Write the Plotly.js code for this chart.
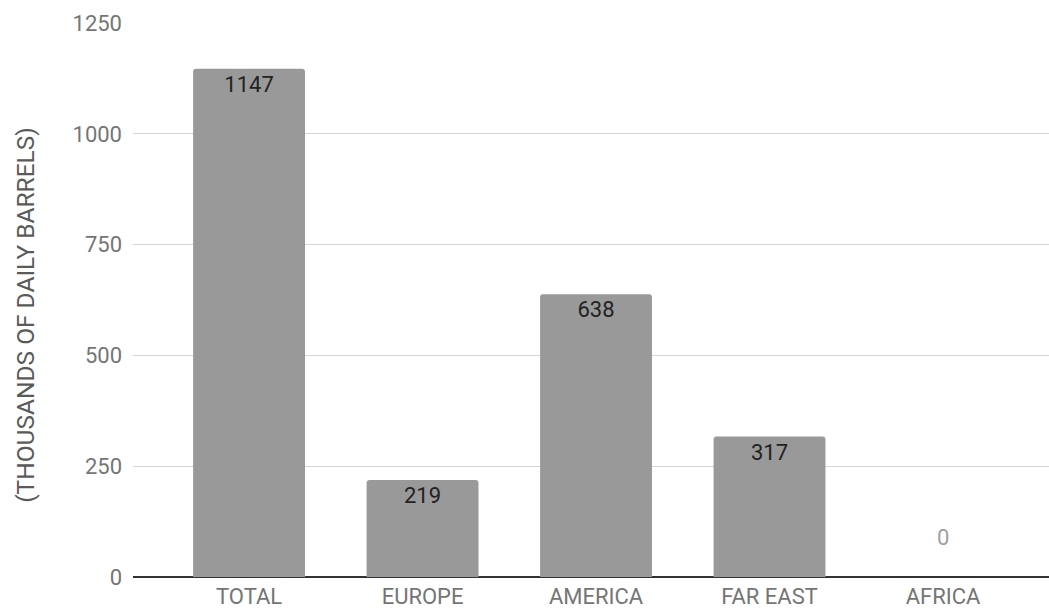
<!DOCTYPE html>
<html>
<head>
<meta charset="utf-8">
<script src="https://cdn.plot.ly/plotly-3.0.1.min.js"></script>
<style>html,body{margin:0;padding:0;background:#fff;}#chart{width:1049px;height:616px;}</style>
</head>
<body>
<div id="chart"></div>
<script>
var categories = ["TOTAL", "EUROPE", "AMERICA", "FAR EAST", "AFRICA"];
var values = [1147, 219, 638, 317, 0];
var yTicks = [0, 250, 500, 750, 1000, 1250];
var yTitle = "(THOUSANDS OF DAILY BARRELS)";

var FONT = "Roboto, sans-serif";

var annotations = [{
  xref: "paper", yref: "paper", x: -0.117, y: 0.473,
  xanchor: "center", yanchor: "middle",
  text: yTitle, textangle: -90, showarrow: false,
  font: {family: FONT, size: 24.5, color: "#5a5a5a"}
}];
categories.forEach(function (c, i) {
  if (values[i] === 0) {
    annotations.push({
      x: c, y: 0, xref: "x", yref: "y", text: String(values[i]),
      showarrow: false, yshift: 40,
      font: {family: FONT, size: 22, color: "#a0a0a0"}
    });
  }
});

var trace = {
  type: "bar",
  x: categories,
  y: values,
  text: values.map(String),
  textposition: "inside",
  insidetextanchor: "end",
  textangle: 0,
  textfont: {family: FONT, size: 22, color: "#222222"},
  marker: {color: "#999999", cornerradius: 3},
  hoverinfo: "none"
};

var layout = {
  width: 1049, height: 616,
  margin: {l: 133, r: 0, t: 23, b: 39},
  paper_bgcolor: "#ffffff", plot_bgcolor: "#ffffff",
  showlegend: false,
  bargap: 0.355,
  font: {family: FONT, size: 22, color: "#757575"},
  xaxis: {
    type: "category",
    range: [-0.669, 4.611],
    showgrid: false,
    showline: false,
    zeroline: false,
    ticks: "",
    ticklabelstandoff: 4,
    tickfont: {family: FONT, size: 22, color: "#757575"},
    fixedrange: true
  },
  yaxis: {
    range: [0, 1250],
    tickvals: yTicks,
    ticktext: yTicks.map(String),
    showgrid: true,
    gridcolor: "#d6d6d6",
    gridwidth: 1,
    zeroline: true,
    zerolinecolor: "#333333",
    zerolinewidth: 1.5,
    showline: false,
    ticks: "",
    ticklabelstandoff: 10,
    tickfont: {family: FONT, size: 22, color: "#757575"},
    fixedrange: true
  },
  annotations: annotations
};

Plotly.newPlot("chart", [trace], layout, {displayModeBar: false, staticPlot: true});
</script>
</body>
</html>
